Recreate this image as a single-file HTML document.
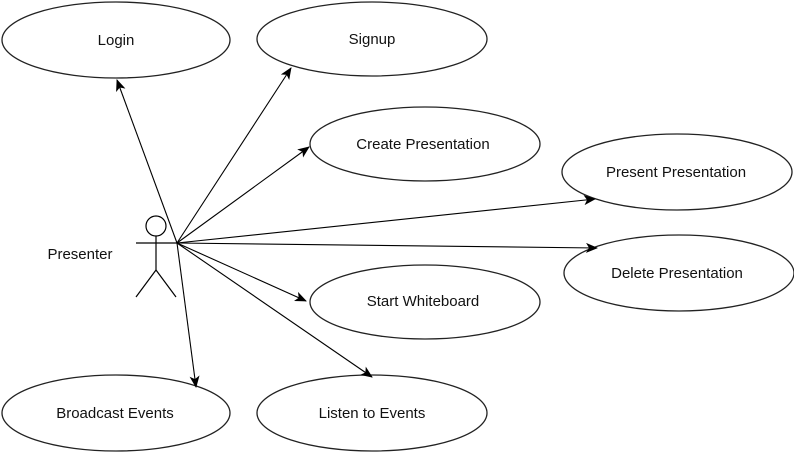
<!DOCTYPE html>
<html><head><style>body{margin:0;background:#fff}svg{display:block}text{font-family:"Liberation Sans",sans-serif;font-size:15px;fill:#111}</style></head><body>
<svg width="794" height="458" viewBox="0 0 794 458">
<defs><marker id="a" markerWidth="12" markerHeight="10" refX="11" refY="5" orient="auto" markerUnits="userSpaceOnUse"><path d="M0,0 L12,5 L0,10 L3,5z" fill="#000"/></marker></defs>
<g fill="#fff" stroke="#222" stroke-width="1.3">
<ellipse cx="116" cy="40" rx="114" ry="38"/>
<ellipse cx="372" cy="39" rx="115" ry="37"/>
<ellipse cx="425" cy="144" rx="115" ry="37"/>
<ellipse cx="677" cy="172" rx="115" ry="38"/>
<ellipse cx="679" cy="273" rx="115" ry="38"/>
<ellipse cx="425" cy="302" rx="115" ry="37"/>
<ellipse cx="116" cy="413" rx="114" ry="38"/>
<ellipse cx="372" cy="413" rx="115" ry="38"/>
</g>
<g stroke="#000" stroke-width="1.2" fill="none">
<circle cx="156" cy="226" r="10"/>
<line x1="136" y1="243" x2="178" y2="243"/>
<line x1="156" y1="236" x2="156" y2="270"/>
<line x1="156" y1="270" x2="136" y2="297"/>
<line x1="156" y1="270" x2="176" y2="297"/>
</g>
<g stroke="#000" stroke-width="1.1" marker-end="url(#a)">
<line x1="177" y1="243" x2="117" y2="80"/>
<line x1="177" y1="243" x2="291" y2="68"/>
<line x1="177" y1="243" x2="309" y2="147"/>
<line x1="177" y1="243" x2="595" y2="199"/>
<line x1="177" y1="243" x2="597" y2="248"/>
<line x1="177" y1="243" x2="306" y2="301"/>
<line x1="177" y1="243" x2="372" y2="377"/>
<line x1="177" y1="243" x2="196" y2="387"/>
</g>
<g text-anchor="middle">
<text x="116" y="45">Login</text>
<text x="372" y="44">Signup</text>
<text x="423" y="149">Create Presentation</text>
<text x="676" y="177">Present Presentation</text>
<text x="677" y="278">Delete Presentation</text>
<text x="423" y="306">Start Whiteboard</text>
<text x="115" y="418">Broadcast Events</text>
<text x="372" y="418">Listen to Events</text>
<text x="80" y="259">Presenter</text>
</g>
</svg>
</body></html>
